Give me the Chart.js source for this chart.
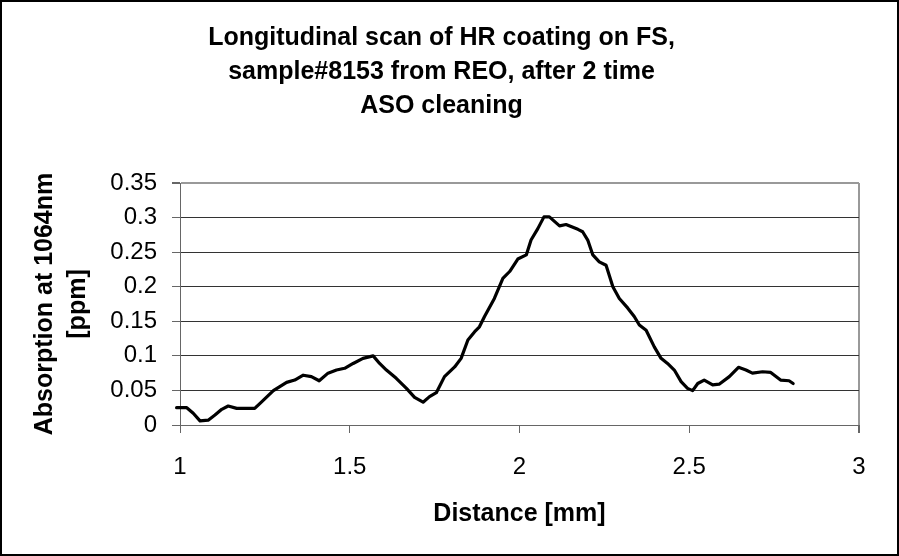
<!DOCTYPE html>
<html>
<head>
<meta charset="utf-8">
<script src="https://cdn.jsdelivr.net/npm/chart.js@4"></script>
<style>
  html, body { margin: 0; padding: 0; background: #fff; }
  canvas { display: block; }
</style>
</head>
<body>
<canvas id="scan" width="899" height="556"></canvas>
<script>
// Longitudinal scan, absorption vs distance
const distanceMm = [
  0.99, 1.02, 1.039, 1.059, 1.083, 1.103, 1.123, 1.142, 1.167, 1.22,
  1.235, 1.275, 1.314, 1.338, 1.363, 1.387, 1.41, 1.436, 1.461, 1.485,
  1.51, 1.539, 1.569, 1.588, 1.608, 1.637, 1.667, 1.691, 1.716, 1.735,
  1.755, 1.779, 1.809, 1.828, 1.848, 1.868, 1.882, 1.897, 1.926, 1.951,
  1.971, 1.995, 2.02, 2.034, 2.054, 2.072, 2.088, 2.118, 2.137, 2.172,
  2.186, 2.201, 2.216, 2.235, 2.255, 2.275, 2.294, 2.319, 2.338, 2.353,
  2.373, 2.397, 2.417, 2.436, 2.456, 2.476, 2.495, 2.51, 2.525, 2.544,
  2.569, 2.588, 2.618, 2.645, 2.667, 2.686, 2.716, 2.74, 2.769, 2.794,
  2.806
];
const absorptionPpm = [
  0.025, 0.025, 0.017, 0.006, 0.007, 0.0145, 0.0227, 0.0275, 0.024, 0.024,
  0.031, 0.0497, 0.0617, 0.065, 0.072, 0.070, 0.064, 0.075, 0.0795, 0.082,
  0.089, 0.0964, 0.100, 0.089, 0.0795, 0.0675, 0.053, 0.040, 0.033, 0.041,
  0.0467, 0.070, 0.084, 0.0964, 0.123, 0.135, 0.142, 0.157, 0.183, 0.212,
  0.222, 0.240, 0.246, 0.2675, 0.284, 0.301, 0.301, 0.288, 0.290, 0.283,
  0.2795, 0.2675, 0.246, 0.236, 0.231, 0.200, 0.183, 0.169, 0.157, 0.1446,
  0.137, 0.113, 0.0964, 0.089, 0.0795, 0.0627, 0.053, 0.0497, 0.060, 0.065,
  0.058, 0.059, 0.070, 0.0834, 0.0795, 0.075, 0.077, 0.076, 0.065, 0.064,
  0.060
];
const xTicks = [1, 1.5, 2, 2.5, 3];
const yTicks = [0, 0.05, 0.1, 0.15, 0.2, 0.25, 0.3, 0.35];

const titleLines = [
  'Longitudinal scan of HR coating on FS,',
  'sample#8153 from REO, after 2 time',
  'ASO cleaning'
];

const FONT = "'Liberation Sans', Arial, sans-serif";

// white background + outer frame
const frame = {
  id: 'frame',
  beforeDraw(chart) {
    const ctx = chart.ctx;
    ctx.save();
    ctx.fillStyle = '#fff';
    ctx.fillRect(0, 0, chart.width, chart.height);
    ctx.restore();
  },
  afterDraw(chart) {
    const ctx = chart.ctx;
    ctx.save();
    ctx.strokeStyle = '#000';
    ctx.lineWidth = 2;
    ctx.strokeRect(1, 1, chart.width - 2, chart.height - 2);
    ctx.restore();
  }
};

const points = distanceMm.map((x, i) => ({ x, y: absorptionPpm[i] }));

new Chart(document.getElementById('scan'), {
  type: 'scatter',
  data: {
    datasets: [{
      data: points,
      showLine: true,
      borderColor: '#000',
      borderWidth: 3.2,
      borderJoinStyle: 'round',
      borderCapStyle: 'round',
      pointRadius: 0,
      tension: 0,
      clip: false,
    }]
  },
  options: {
    responsive: false,
    animation: false,
    layout: { padding: { left: 0, right: 16, top: 0, bottom: 0 } },
    plugins: {
      legend: { display: false },
      tooltip: { enabled: false },
      title: {
        display: true,
        text: titleLines,
        color: '#000',
        font: { family: FONT, size: 25, weight: 'bold', lineHeight: '34px' },
        padding: { top: 21, bottom: 60 },
      },
    },
    scales: {
      x: {
        type: 'linear',
        min: 1,
        max: 3,
        afterBuildTicks: axis => { axis.ticks = xTicks.map(v => ({ value: v })); },
        afterFit: s => { s.height = 131; },
        ticks: {
          color: '#000',
          padding: 20,
          font: { family: FONT, size: 24 },
          callback: v => String(v),
        },
        grid: {
          color: c => (c.tick && c.tick.value === 3 ? '#999' : 'rgba(0,0,0,0)'),
          lineWidth: c => (c.tick && c.tick.value === 3 ? 2 : 1),
          tickColor: '#666',
          tickLength: 8,
        },
        border: { color: '#666', width: 1 },
        title: {
          display: true,
          text: 'Distance [mm]',
          color: '#000',
          font: { family: FONT, size: 25, weight: 'bold' },
          padding: { top: 0, bottom: 27 },
        },
      },
      y: {
        type: 'linear',
        min: 0,
        max: 0.35,
        afterBuildTicks: axis => { axis.ticks = yTicks.map(v => ({ value: v })); },
        afterFit: s => { s.width = 180; },
        ticks: {
          color: '#000',
          padding: 15,
          font: { family: FONT, size: 24 },
          callback: v => String(v),
        },
        grid: {
          color: c => {
            if (!c.tick) return '#333';
            if (c.tick.value === 0.35) return '#999';
            if (c.tick.value === 0) return 'rgba(0,0,0,0)';
            return '#333';
          },
          lineWidth: c => (c.tick && c.tick.value === 0.35 ? 2 : 1),
          tickColor: '#666',
          tickLength: 8,
        },
        border: { color: '#666', width: 1 },
        title: {
          display: true,
          text: ['Absorption at 1064nm', '[ppm]'],
          color: '#000',
          font: { family: FONT, size: 25, weight: 'bold', lineHeight: '33px' },
          padding: { top: 29, bottom: 0 },
        },
      },
      // spacer on the right so the plot ends where the original does
      yRight: {
        position: 'right',
        display: true,
        grid: { display: false },
        ticks: { display: false },
        border: { display: false },
        afterFit: s => { s.width = 24; },
      },
    },
  },
  plugins: [frame],
});
</script>
</body>
</html>
